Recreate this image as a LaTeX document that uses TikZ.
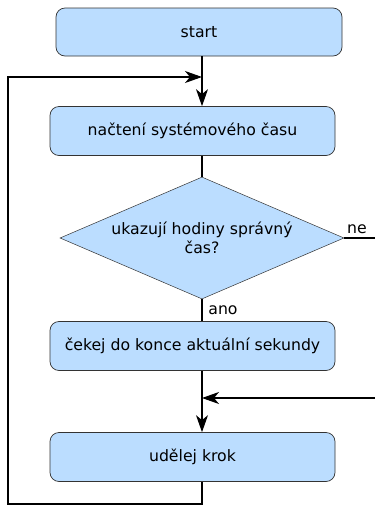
\documentclass[tikz,border=0pt]{standalone}
\usepackage{fontspec}
\setmainfont{DejaVu Sans}
\usetikzlibrary{shapes.geometric,arrows.meta}
\definecolor{boxfill}{HTML}{BBDDFF}
\definecolor{boxline}{HTML}{333333}
\tikzset{
  procbox/.style={draw=boxline, line width=0.7pt, fill=boxfill, rounded corners=9pt,
    minimum width=285pt, minimum height=49pt, inner sep=0pt},
  decbox/.style={draw=boxline, line width=0.5pt, fill=boxfill, shape=diamond, aspect=2.33,
    minimum width=284pt, minimum height=122pt, inner sep=0pt, align=center},
  conn/.style={line width=1.1pt, black},
  arr/.style={conn, -{Stealth[length=17pt,width=12pt,inset=5pt]}},
  lbl/.style={inner sep=0pt}
}
\begin{document}
\begin{tikzpicture}[x=1pt,y=-1pt, font=\fontsize{15.7}{19}\selectfont]
\useasboundingbox (0,0) rectangle (375,507);
\node[procbox, minimum width=286pt, minimum height=48pt] (start) at (199,32) {start};
\node[procbox] (b2) at (192.5,131) {načtení systémového času};
\node[decbox] (dia) at (202,238) {ukazují hodiny správný\\čas?};
\node[procbox] (b3) at (192.5,346) {čekej do konce aktuální sekundy};
\node[procbox] (b4) at (192.5,457) {udělej krok};
\coordinate (col) at (202,0);
\coordinate (m1) at (202,77);
\coordinate (m2) at (202,398);
\coordinate (lb) at (8,504);
\coordinate (neend) at (375,238);
\coordinate (inr) at (375,398);
\draw[arr] (start.south -| col) -- (b2.north -| col);
\draw[conn] (b2.south -| col) -- (dia.north);
\draw[conn] (dia.east) -- (neend);
\node[lbl] (ne) at (357,229) {ne};
\draw[conn] (dia.south) -- (b3.north -| col);
\node[lbl] (ano) at (223,310) {ano};
\draw[arr] (b3.south -| col) -- (b4.north -| col);
\draw[arr] (inr) -- (m2);
\draw[arr] (b4.south -| col) |- (lb) |- (m1);
\end{tikzpicture}
\end{document}
